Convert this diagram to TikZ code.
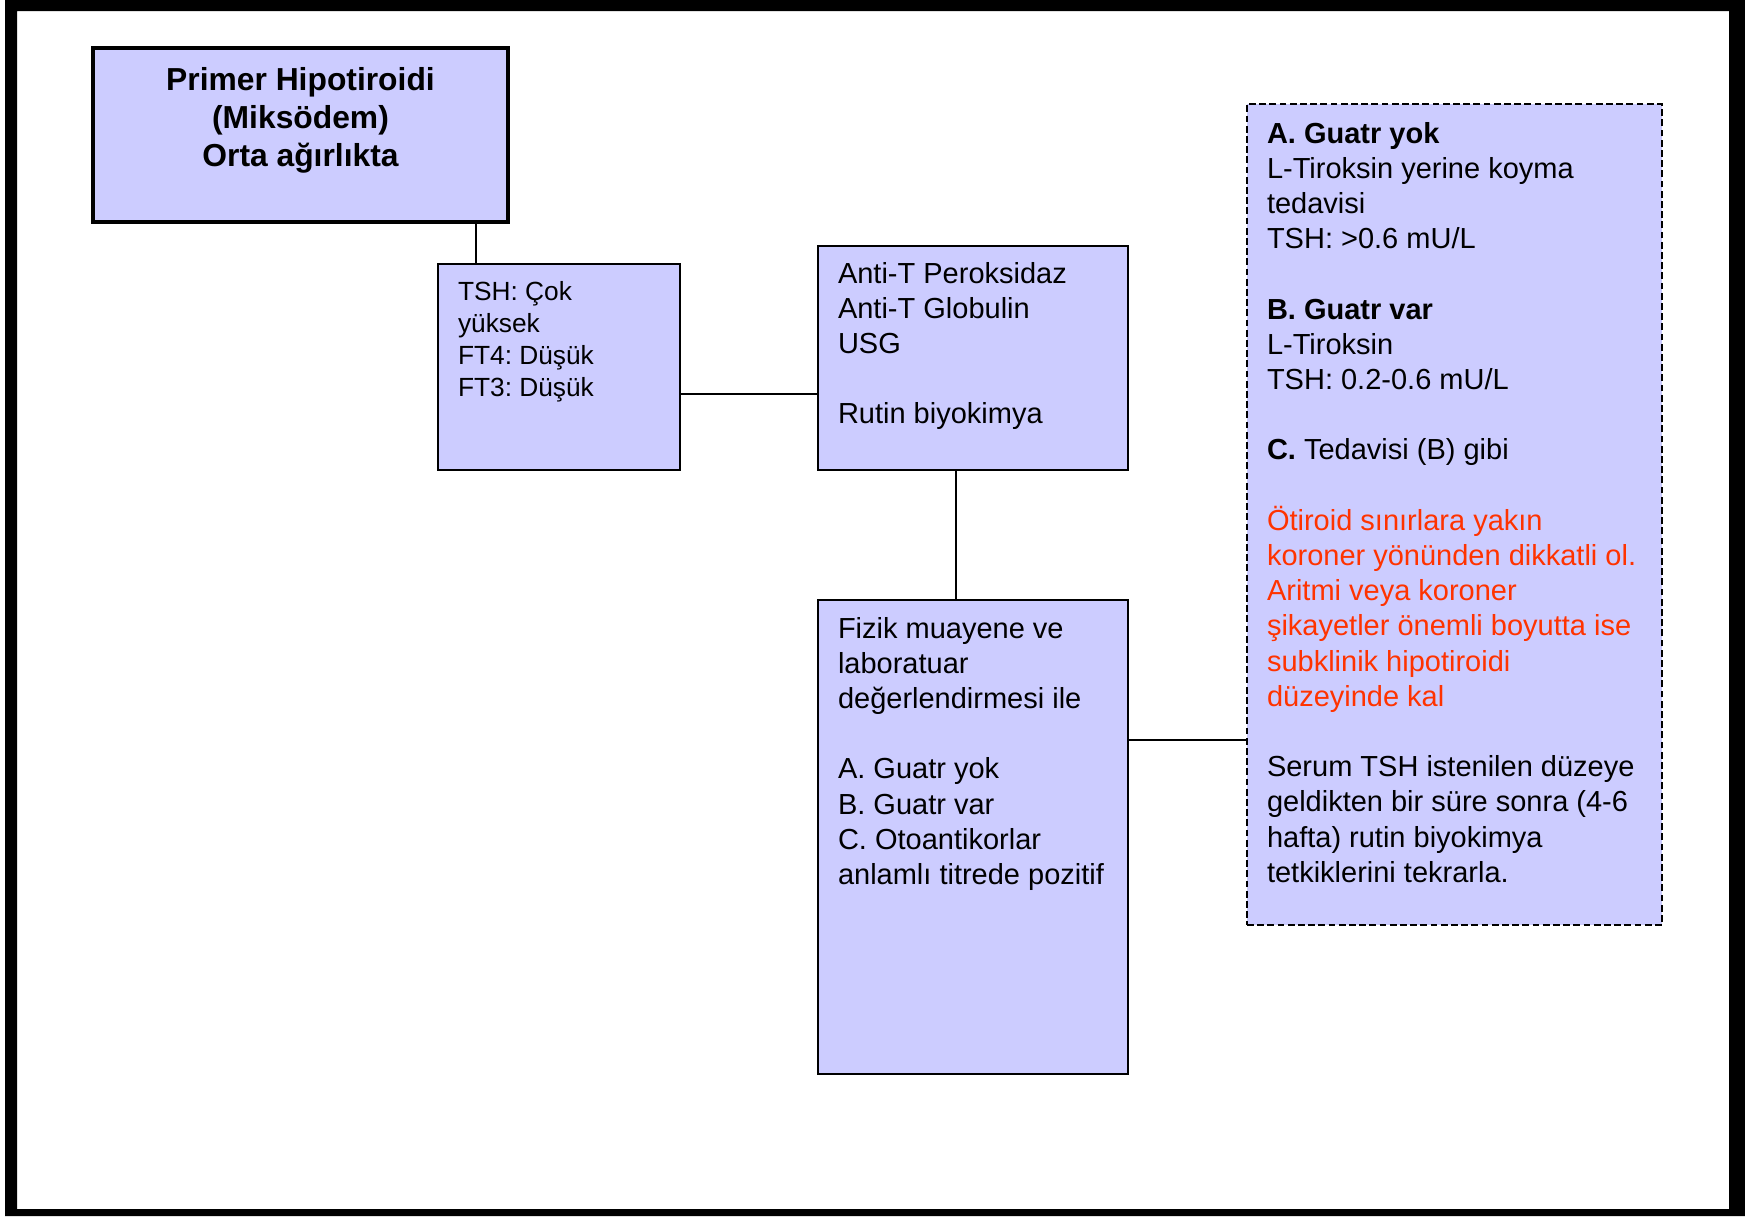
\documentclass[tikz,border=0pt]{standalone}
\usepackage{fontspec}
\setmainfont{Liberation Sans}
\usepackage{tikz}
\usetikzlibrary{positioning}
\frenchspacing

\definecolor{boxfill}{RGB}{204,204,255}
\definecolor{warnred}{RGB}{255,51,0}
\newcommand{\bodyfont}{\fontsize{14.5pt}{17.6pt}\selectfont}
\newcommand{\labfont}{\fontsize{13.15pt}{16.1pt}\selectfont}
\newcommand{\headfont}{\fontsize{15.9pt}{19.2pt}\selectfont\bfseries}

\begin{document}
\begin{tikzpicture}[x=0.5pt, y=-0.5pt,
	box/.style={draw, line width=1pt, fill=boxfill, anchor=north west, outer sep=0pt, inner ysep=0pt, inner xsep=10pt},
	titlebox/.style={box, line width=1.7pt, inner xsep=0pt},
	notebox/.style={box, dash pattern=on 3.4pt off 1.7pt},
	link/.style={line width=0.9pt}]
	\useasboundingbox (0,0) rectangle (1745,1216);
	% Frame
	\fill [white] (0,0) rectangle (1745,1216);
	\fill [black, even odd rule] (5,0) rectangle (1745,1216) (17,11) rectangle (1729,1209);

	% Title
	\node [titlebox] (title) at (93,48) {\parbox[c][87pt][t]{207.5pt}{\headfont\centering\vspace*{7.56pt}\strut Primer Hipotiroidi\\ (Miksödem)\\ Orta ağırlıkta}};

	% Lab results
	\node [box] (tsh) at (438,264) {\parbox[c][103pt][t]{101pt}{\labfont\raggedright\vspace*{6.73pt}\strut TSH: Çok\\ yüksek\\ FT4: Düşük\\ FT3: Düşük}};
	\node [box] (anti) at (818,246) {\parbox[c][112pt][t]{135pt}{\bodyfont\raggedright\vspace*{6.18pt}\strut Anti-T Peroksidaz\\ Anti-T Globulin\\ USG\\[17.6pt] Rutin biyokimya}};
	\node [box] (fizik) at (818,600) {\parbox[c][237pt][t]{135pt}{\bodyfont\raggedright\vspace*{6.68pt}\strut Fizik muayene ve\\ laboratuar\\ değerlendirmesi ile\\[17.6pt] A. Guatr yok\\ B. Guatr var\\ C. Otoantikorlar\\ anlamlı titrede pozitif}};

	% Treatment
	\node [notebox] (tedavi) at (1247,104) {\parbox[c][410.5pt][t]{187.5pt}{\bodyfont\raggedright\vspace*{7.18pt}\strut
		\textbf{A. Guatr yok}\\ L-Tiroksin yerine koyma\\ tedavisi\\ TSH: >0.6 mU/L\\[17.6pt]
		\textbf{B. Guatr var}\\ L-Tiroksin\\ TSH: 0.2-0.6 mU/L\\[17.6pt]
		\textbf{C.} Tedavisi (B) gibi\\[17.6pt]
		\color{warnred}Ötiroid sınırlara yakın\\ koroner yönünden dikkatli ol.\\ Aritmi veya koroner\\ şikayetler önemli boyutta ise\\ subklinik hipotiroidi\\ düzeyinde kal\\[17.6pt]
		\color{black}Serum TSH istenilen düzeye\\ geldikten bir süre sonra (4-6\\ hafta) rutin biyokimya\\ tetkiklerini tekrarla.}};

	% Links
	\draw [link] ([xshift=87.75pt]title.south) -- ([xshift=-41.5pt]tsh.north);
	\draw [link] ([yshift=-13.5pt]tsh.east) -- ([yshift=-18pt]anti.west);
	\draw [link] ([xshift=-8.5pt]anti.south) -- ([xshift=-8.5pt]fizik.north);
	\draw [link] ([yshift=48.5pt]fizik.east) -- ([yshift=-112.75pt]tedavi.west);
\end{tikzpicture}
\end{document}
